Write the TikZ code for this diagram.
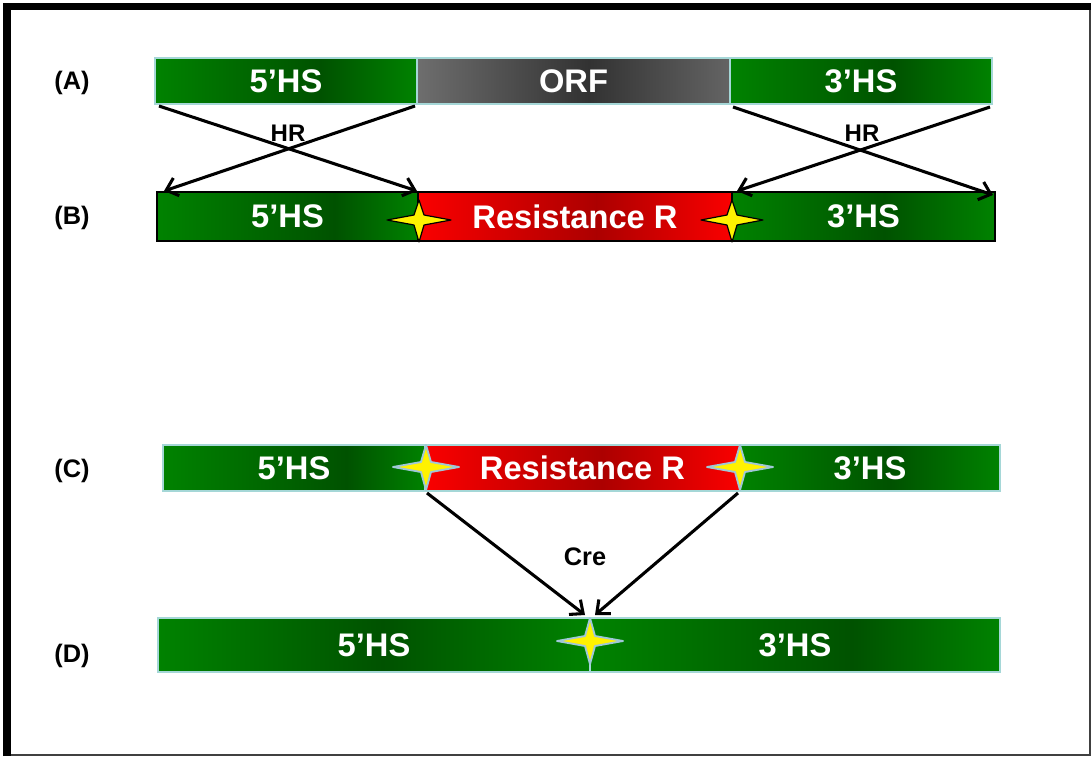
\documentclass[tikz,border=0pt]{standalone}
\usepackage{fontspec}
\setmainfont{Liberation Sans}
\usetikzlibrary{arrows.meta,calc}
\definecolor{gL}{RGB}{0,130,0}
\definecolor{gD}{RGB}{0,82,0}
\definecolor{gR}{RGB}{0,130,0}
\definecolor{rL}{RGB}{250,0,0}
\definecolor{rD}{RGB}{172,0,0}
\definecolor{rR}{RGB}{250,0,0}
\definecolor{oL}{RGB}{110,110,110}
\definecolor{oD}{RGB}{50,50,50}
\definecolor{oR}{RGB}{100,100,100}
\definecolor{lightedge}{RGB}{165,215,215}
\definecolor{glow}{RGB}{160,200,215}
% name, x1, y1, x2, y2, style, text, colour scheme, fraction of darkest point
\newcommand\segbox[9]{%
  \shade[left color=#8L, right color=#8D] (#2,#3) rectangle ({#2+(#4-#2)*#9},#5);
  \shade[left color=#8D, right color=#8R] ({#2+(#4-#2)*#9},#3) rectangle (#4,#5);
  \node[#6, minimum width={(#4-#2)*0.75pt}, minimum height={(#5-#3)*0.75pt}] (#1) at ({(#2+#4)/2},{(#3+#5)/2}) {#7};}
% cx, cy, half width, top arm, bottom arm, style
\newcommand\fourstar[6]{%
  \path[#6] (#1,#2-#4) -- (#1+5,#2-5) -- (#1+#3,#2) -- (#1+5,#2+5) -- (#1,#2+#5) -- (#1-5,#2+5) -- (#1-#3,#2) -- (#1-5,#2-5) -- cycle;}
\tikzset{
  seg/.style={inner sep=0pt, outer sep=0pt, text=white, font=\bfseries\fontsize{24.5}{29}\selectfont},
  lseg/.style={seg, draw=lightedge, line width=0.8pt},
  bseg/.style={seg, draw=black, line width=1.1pt},
  rowlabel/.style={font=\bfseries\fontsize{19}{22}\selectfont, text=black},
  arrlabel/.style={font=\bfseries\fontsize{18}{21}\selectfont, text=black},
  conn/.style={line width=2.3pt, -{Straight Barb[length=8pt,width=14pt]}},
  starB/.style={fill=yellow, draw=black, line width=0.9pt, line join=round},
  starC/.style={fill=yellow, draw=glow, line width=1.4pt, line join=round},
}
\begin{document}
\begin{tikzpicture}[x=0.75pt,y=-0.75pt]
\useasboundingbox (0,0) rectangle (1091,756);
\fill[white] (0,0) rectangle (1091,756);
% frame
\draw[line width=1.5pt, black!75] (1089.5,7) -- (1089.5,755) -- (7,755);
\draw[line width=5.5pt, black] (7,756) -- (7,6.5) -- (1091,6.5);
% row labels
\node[rowlabel] (la) at (72,83) {(A)};
\node[rowlabel] (lb) at (72,218) {(B)};
\node[rowlabel] (lc) at (72,471) {(C)};
\node[rowlabel] (ld) at (72,656) {(D)};
% row A
\segbox{a5}{155}{58}{417}{104}{lseg}{5’HS}{g}{0.63}
\segbox{aorf}{417}{58}{730}{104}{lseg}{ORF}{o}{0.55}
\segbox{a3}{730}{58}{992}{104}{lseg}{3’HS}{g}{0.62}
% row B
\segbox{b5}{157}{192}{418}{241}{bseg}{5’HS}{g}{0.68}
\segbox{br}{418}{192}{732}{241}{bseg}{Resistance R}{r}{0.57}
\segbox{b3}{732}{192}{995}{241}{bseg}{3’HS}{g}{0.58}
\fourstar{419}{220}{32}{20}{22}{starB}
\fourstar{732}{220}{31}{20}{22}{starB}
% row C
\segbox{c5}{163}{445}{425}{491}{lseg}{5’HS}{g}{0.7}
\segbox{cr}{425}{445}{740}{491}{lseg}{Resistance R}{r}{0.56}
\segbox{c3}{740}{445}{1000}{491}{lseg}{3’HS}{g}{0.58}
\fourstar{426}{467}{33}{22}{23}{starC}
\fourstar{740}{467}{33}{22}{23}{starC}
% row D
\segbox{d5}{158}{618}{590}{672}{lseg}{5’HS}{g}{0.52}
\segbox{d3}{590}{618}{1000}{672}{lseg}{3’HS}{g}{0.64}
\fourstar{590}{641}{33}{23}{23}{starC}
% connectors A -> B
\draw[conn] ($(a5.south west)+(4,2)$) -- ($(b5.north east)+(-1,-1)$);
\draw[conn] ($(a5.south east)+(-2,2)$) -- ($(b5.north west)+(7,-1)$);
\draw[conn] ($(a3.south west)+(3,3)$) -- ($(b3.north east)+(-2,3)$);
\draw[conn] ($(a3.south east)+(-2,3)$) -- ($(b3.north west)+(5,-1)$);
\node[arrlabel] (hr1) at (288,133) {HR};
\node[arrlabel] (hr2) at (862,133) {HR};
% connectors C -> D
\draw[conn] ($(c5.south east)+(2,2)$) -- ($(d5.north east)+(-5,-3)$);
\draw[conn] ($(cr.south east)+(-2,2)$) -- ($(d5.north east)+(5,-3)$);
\node[rowlabel] (cre) at (585,557) {Cre};
\end{tikzpicture}
\end{document}
